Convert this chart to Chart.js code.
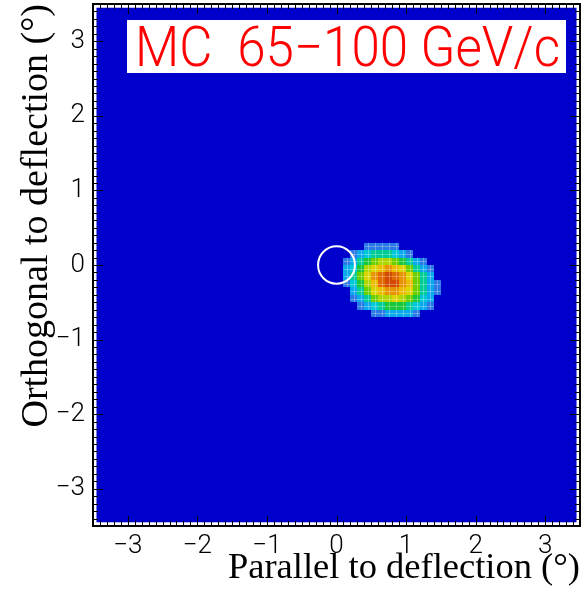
<!DOCTYPE html>
<html>
<head>
<meta charset="utf-8">
<script src="https://cdn.jsdelivr.net/npm/chart.js@4/dist/chart.umd.min.js"></script>
<style>
  html, body { margin: 0; padding: 0; background: #fff; }
  canvas { display: block; }
</style>
</head>
<body>
<canvas id="histChart" width="583" height="591"></canvas>
<script>
// bin centres (degrees), bins are 0.1 wide
const xBins = [0.15, 0.25, 0.35, 0.45, 0.55, 0.65, 0.75, 0.85, 0.95, 1.05, 1.15, 1.25, 1.35, 1.45];
const yBins = [0.25, 0.15, 0.05, -0.05, -0.15, -0.25, -0.35, -0.45, -0.55, -0.65];
const binWidth = 0.1;

// counts, one row per yBins entry
const counts = [
    [0, 0, 0, 2, 5, 6, 5, 1, 0, 0, 0, 0, 0, 0],
    [0, 3, 12, 20, 26, 28, 27, 23, 15, 7, 0, 0, 0, 0],
    [2, 14, 27, 38, 47, 51, 51, 46, 38, 27, 13, 1, 0, 0],
    [8, 22, 37, 52, 63, 70, 72, 68, 57, 45, 30, 14, 1, 0],
    [9, 25, 41, 57, 72, 84, 90, 85, 72, 58, 42, 25, 9, 0],
    [5, 21, 37, 55, 70, 84, 95, 90, 78, 64, 47, 31, 14, 2],
    [0, 12, 28, 43, 58, 69, 76, 77, 70, 59, 45, 30, 14, 2],
    [0, 1, 13, 27, 40, 50, 55, 57, 54, 46, 35, 23, 9, 0],
    [0, 0, 1, 8, 19, 27, 32, 34, 33, 29, 20, 11, 1, 0],
    [0, 0, 0, 0, 1, 5, 9, 12, 11, 9, 3, 0, 0, 0]
];

const tickValues = [-3, -2, -1, 0, 1, 2, 3];
const tickLabels = ['\u22123', '\u22122', '\u22121', '0', '1', '2', '3'];

const histRange = [-3.45, 3.45];
const axisRange = [-3.5, 3.5];
const circleCenter = [0, 0];
const circleRadius = [0.265, 0.25];

const titleText = 'MC  65\u2212100 GeV/c';
const xTitle = 'Parallel to deflection (\u00b0)';
const yTitle = 'Orthogonal to deflection (\u00b0)';

// colour levels (count >= level)
const levels = [1, 8, 16, 24, 32, 40, 48, 56, 64, 72, 80, 88];
const palette = ['#2a78e6', '#0aa8ec', '#00c8d8', '#00cc98', '#18c83a', '#6ccf00',
                 '#aed600', '#dcd400', '#ecbc00', '#e89400', '#e06a00', '#d24a00'];
const bgBlue = '#0000cc';

function colorFor(v) {
    let c = null;
    for (let i = 0; i < levels.length; i++) {
        if (v >= levels[i]) c = palette[i];
    }
    return c;
}

const histPlugin = {
    id: 'hist2d',
    beforeDatasetsDraw(chart) {
        const {ctx, chartArea: a, scales: {x, y}} = chart;
        ctx.save();
        ctx.fillStyle = '#fff';
        ctx.fillRect(a.left, a.top, a.right - a.left, a.bottom - a.top);

        // empty bins
        const bx0 = x.getPixelForValue(histRange[0]);
        const bx1 = x.getPixelForValue(histRange[1]);
        const by0 = y.getPixelForValue(histRange[1]);
        const by1 = y.getPixelForValue(histRange[0]);
        ctx.fillStyle = bgBlue;
        ctx.fillRect(bx0, by0, bx1 - bx0, by1 - by0);

        // filled bins
        yBins.forEach((yc, j) => {
            xBins.forEach((xc, i) => {
                const col = colorFor(counts[j][i]);
                if (!col) return;
                const px0 = Math.round(x.getPixelForValue(xc - binWidth / 2));
                const px1 = Math.round(x.getPixelForValue(xc + binWidth / 2));
                const py0 = Math.round(y.getPixelForValue(yc + binWidth / 2));
                const py1 = Math.round(y.getPixelForValue(yc - binWidth / 2));
                ctx.fillStyle = col;
                ctx.fillRect(px0, py0, px1 - px0, py1 - py0);
            });
        });

        // error crosses
        ctx.strokeStyle = 'rgba(255,255,255,0.28)';
        ctx.lineWidth = 1;
        ctx.beginPath();
        yBins.forEach((yc, j) => {
            xBins.forEach((xc, i) => {
                if (!counts[j][i]) return;
                const cx = Math.round(x.getPixelForValue(xc)) + 0.5;
                const cy = Math.round(y.getPixelForValue(yc)) + 0.5;
                ctx.moveTo(x.getPixelForValue(xc - binWidth / 2), cy);
                ctx.lineTo(x.getPixelForValue(xc + binWidth / 2), cy);
                ctx.moveTo(cx, y.getPixelForValue(yc + binWidth / 2));
                ctx.lineTo(cx, y.getPixelForValue(yc - binWidth / 2));
            });
        });
        ctx.stroke();
        ctx.restore();
    },
    afterDatasetsDraw(chart) {
        const {ctx, chartArea: a, scales: {x, y}} = chart;
        ctx.save();

        // circle at the origin
        const cx = x.getPixelForValue(circleCenter[0]);
        const cy = y.getPixelForValue(circleCenter[1]);
        const rx = x.getPixelForValue(circleCenter[0] + circleRadius[0]) - cx;
        const ry = cy - y.getPixelForValue(circleCenter[1] + circleRadius[1]);
        ctx.strokeStyle = '#fff';
        ctx.lineWidth = 2;
        ctx.beginPath();
        ctx.ellipse(cx, cy, rx, ry, 0, 0, Math.PI * 2);
        ctx.stroke();

        // ticks on all four sides
        ctx.strokeStyle = '#000';
        ctx.lineWidth = 1;
        ctx.beginPath();
        for (let k = -35; k <= 35; k++) {
            const v = k / 10;
            const major = k % 10 === 0;
            const len = major ? 10 : 5;
            const px = Math.round(x.getPixelForValue(v)) + 0.5;
            const py = Math.round(y.getPixelForValue(v)) + 0.5;
            ctx.moveTo(px, a.bottom); ctx.lineTo(px, a.bottom - len);
            ctx.moveTo(px, a.top); ctx.lineTo(px, a.top + len);
            ctx.moveTo(a.left, py); ctx.lineTo(a.left + len, py);
            ctx.moveTo(a.right, py); ctx.lineTo(a.right - len, py);
        }
        ctx.stroke();

        // frame
        ctx.lineWidth = 2;
        ctx.strokeRect(a.left, a.top, a.right - a.left, a.bottom - a.top);

        // label box
        ctx.fillStyle = '#fff';
        ctx.fillRect(127, 20, 439, 53);
        ctx.fillStyle = '#ff0000';
        ctx.font = '300 55px Roboto, "Liberation Sans", Arial, sans-serif';
        ctx.textBaseline = 'alphabetic';
        ctx.textAlign = 'left';
        ctx.fillText(titleText, 135, 66, 425);
        ctx.restore();
    }
};

const tickFont = { family: 'Roboto, "Liberation Sans", Arial, sans-serif', size: 26, weight: 300 };

new Chart(document.getElementById('histChart').getContext('2d'), {
    type: 'scatter',
    data: { datasets: [] },
    options: {
        responsive: false,
        animation: false,
        layout: { padding: { top: 4, right: 3, left: 0, bottom: 0 } },
        plugins: { legend: { display: false }, tooltip: { enabled: false } },
        scales: {
            x: {
                type: 'linear',
                position: 'bottom',
                min: axisRange[0],
                max: axisRange[1],
                grid: { display: false, drawTicks: false },
                border: { display: false },
                afterBuildTicks: s => { s.ticks = tickValues.map(v => ({ value: v })); },
                afterFit: s => { s.height = 65; s.paddingLeft = 0; s.paddingRight = 0; },
                ticks: {
                    padding: 5,
                    color: '#000',
                    font: tickFont,
                    maxRotation: 0,
                    autoSkip: false,
                    callback: (v, i) => tickLabels[i]
                },
                title: {
                    display: true,
                    text: xTitle,
                    align: 'end',
                    color: '#000',
                    font: { family: '"Liberation Serif", "Times New Roman", serif', size: 36.5 },
                    padding: { top: 0, bottom: 1 }
                }
            },
            y: {
                type: 'linear',
                position: 'left',
                min: axisRange[0],
                max: axisRange[1],
                grid: { display: false, drawTicks: false },
                border: { display: false },
                afterBuildTicks: s => { s.ticks = tickValues.map(v => ({ value: v })); },
                afterFit: s => { s.width = 93; s.paddingTop = 0; s.paddingBottom = 0; },
                ticks: {
                    padding: 8,
                    color: '#000',
                    font: tickFont,
                    autoSkip: false,
                    callback: (v, i) => tickLabels[i]
                },
                title: {
                    display: true,
                    text: yTitle,
                    align: 'end',
                    color: '#000',
                    font: { family: '"Liberation Serif", "Times New Roman", serif', size: 38 },
                    padding: { top: 14, bottom: 0 }
                }
            }
        }
    },
    plugins: [histPlugin]
});
</script>
</body>
</html>
